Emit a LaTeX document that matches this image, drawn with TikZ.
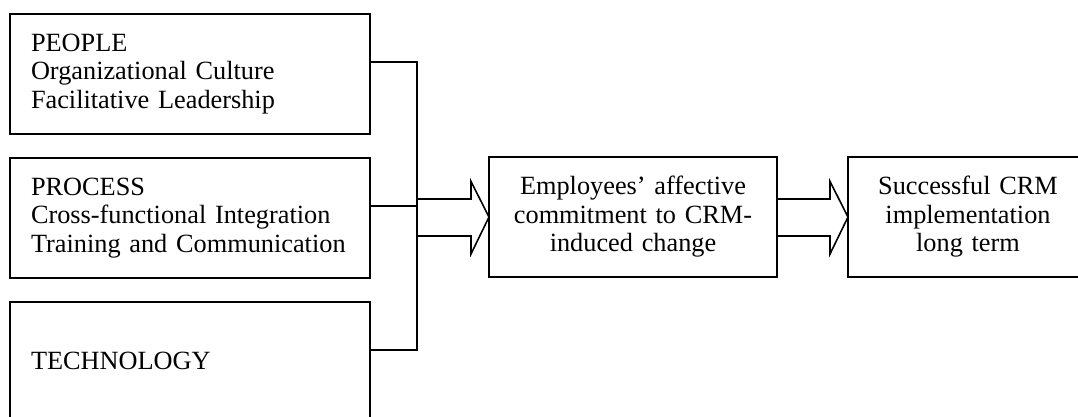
\documentclass[tikz,border=0pt]{standalone}
\usepackage{fontspec}
\setmainfont{Liberation Serif}
\usetikzlibrary{calc}
\begin{document}
\begin{tikzpicture}[x=1pt,y=-1pt,
  box/.style={draw,line width=1.6pt,rectangle,outer sep=0pt,inner ysep=0pt,
    minimum height=120pt,anchor=north west,font=\fontsize{26.3}{28.5}\selectfont},
  leftbox/.style={box,text width=318pt,inner xsep=21pt,align=left},
  rightbox/.style={box,inner xsep=6pt,align=center},
  conn/.style={line width=1.6pt},
  blockarrow/.style={line width=1.6pt,line join=miter}]
\useasboundingbox (0,0) rectangle (1078,417);
\clip (0,0) rectangle (1078,417);
\node[leftbox] (people) at (10,14) {PEOPLE\\Organizational Culture\\Facilitative Leadership};
\node[leftbox] (process) at (10,158) {PROCESS\\Cross-functional Integration\\Training and Communication};
\node[leftbox,minimum height=117pt] (tech) at (10,302) {TECHNOLOGY};
\node[rightbox,text width=276pt] (commit) at (489,157) {Employees' affective\\commitment to CRM-\\induced change};
\node[rightbox,text width=228pt] (success) at (848,157) {Successful CRM\\implementation\\long term};
\coordinate (j1) at (417,62);
\coordinate (j3) at (417,350);
\coordinate (pc) at ([yshift=-48pt]process.north east);
\draw[conn] ([yshift=-48pt]people.north east) -- (j1) -- (j3) -- ([yshift=-48pt]tech.north east);
\draw[conn] (pc) -- (j1 |- pc);
\draw[blockarrow] ($(commit.west)+(-72,-18)$) -- ++(54,0) -- ++(0,-17.5) -- (commit.west)
  -- ++(-18,37) -- ++(0,-18) -- ++(-54,0);
\draw[blockarrow] ($(commit.east)+(0,-18)$) -- ++(53,0) -- ++(0,-17.5) -- (success.west)
  -- ++(-18,37) -- ++(0,-18) -- ++(-53,0);
\end{tikzpicture}
\end{document}
